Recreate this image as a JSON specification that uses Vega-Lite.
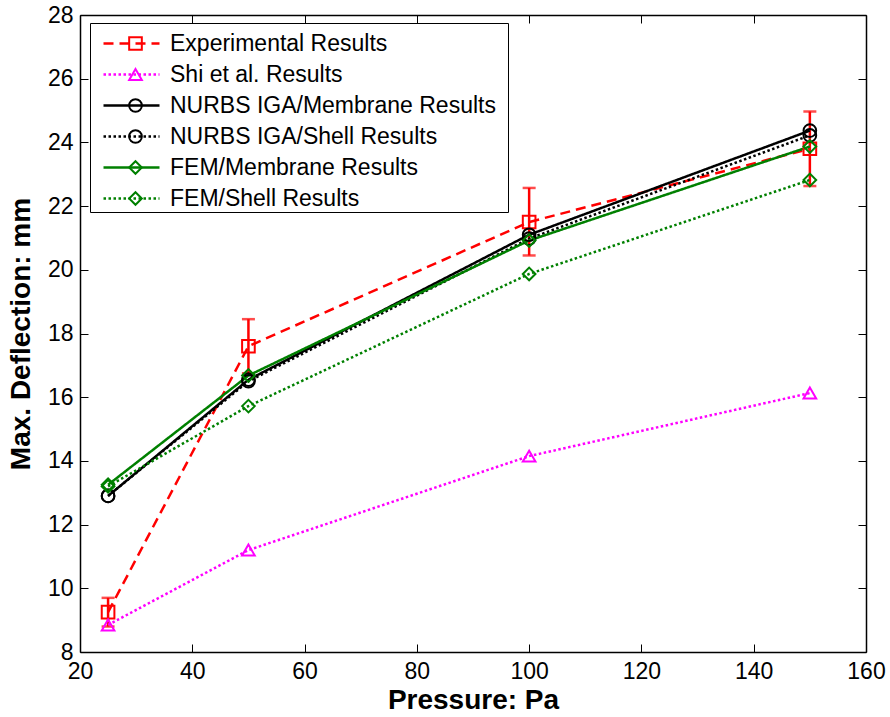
{
  "$schema": "https://vega.github.io/schema/vega-lite/v6.json",
  "width": 786,
  "height": 637,
  "autosize": "none",
  "padding": {"left": 80, "top": 15, "right": 24, "bottom": 65},
  "background": "white",
  "config": {
    "view": {"stroke": null},
    "font": "Liberation Sans",
    "axis": {
      "grid": false,
      "domainColor": "black",
      "domainWidth": 1.5,
      "tickColor": "black",
      "tickWidth": 1,
      "tickSize": -8,
      "labelFont": "Liberation Sans",
      "labelFontSize": 23,
      "labelColor": "black",
      "labelFlush": false,
      "labelOverlap": false,
      "titleFont": "Liberation Sans",
      "titleFontSize": 28,
      "titleFontWeight": "bold",
      "titleColor": "black"
    }
  },
  "datasets": {
    "series": [
      {"series": "Experimental Results", "p": 25, "d": 9.25},
      {"series": "Experimental Results", "p": 50, "d": 17.6},
      {"series": "Experimental Results", "p": 100, "d": 21.5},
      {"series": "Experimental Results", "p": 150, "d": 23.8},
      {"series": "Shi et al. Results", "p": 25, "d": 8.85},
      {"series": "Shi et al. Results", "p": 50, "d": 11.2},
      {"series": "Shi et al. Results", "p": 100, "d": 14.15},
      {"series": "Shi et al. Results", "p": 150, "d": 16.13},
      {"series": "NURBS IGA/Membrane Results", "p": 25, "d": 12.9},
      {"series": "NURBS IGA/Membrane Results", "p": 50, "d": 16.55},
      {"series": "NURBS IGA/Membrane Results", "p": 100, "d": 21.1},
      {"series": "NURBS IGA/Membrane Results", "p": 150, "d": 24.37},
      {"series": "NURBS IGA/Shell Results", "p": 25, "d": 12.9},
      {"series": "NURBS IGA/Shell Results", "p": 50, "d": 16.5},
      {"series": "NURBS IGA/Shell Results", "p": 100, "d": 20.98},
      {"series": "NURBS IGA/Shell Results", "p": 150, "d": 24.22},
      {"series": "FEM/Membrane Results", "p": 25, "d": 13.25},
      {"series": "FEM/Membrane Results", "p": 50, "d": 16.68},
      {"series": "FEM/Membrane Results", "p": 100, "d": 20.92},
      {"series": "FEM/Membrane Results", "p": 150, "d": 23.87},
      {"series": "FEM/Shell Results", "p": 25, "d": 13.2},
      {"series": "FEM/Shell Results", "p": 50, "d": 15.72},
      {"series": "FEM/Shell Results", "p": 100, "d": 19.87},
      {"series": "FEM/Shell Results", "p": 150, "d": 22.82}
    ],
    "err": [
      {"p": 25, "lo": 8.8, "hi": 9.7},
      {"p": 50, "lo": 16.75, "hi": 18.45},
      {"p": 100, "lo": 20.45, "hi": 22.57},
      {"p": 150, "lo": 22.63, "hi": 24.97}
    ]
  },
  "layer": [
    {
      "data": {"name": "err"},
      "mark": {"type": "errorbar", "color": "#FF0000", "rule": {"strokeWidth": 2.5, "color": "#FF0000"}, "ticks": {"size": 13, "thickness": 2.5, "color": "#FF0000"}},
      "encoding": {
        "x": {"field": "p", "type": "quantitative", "scale": {"domain": [20, 160]}, "axis": null},
        "y": {"field": "lo", "type": "quantitative", "scale": {"domain": [8, 28]}, "axis": null},
        "y2": {"field": "hi"}
      }
    },
    {
      "data": {"name": "series"},
      "mark": {"type": "line", "strokeWidth": 2.5},
      "encoding": {
        "x": {"field": "p", "type": "quantitative", "scale": {"domain": [20, 160]}, "axis": null},
        "y": {"field": "d", "type": "quantitative", "scale": {"domain": [8, 28]}, "axis": null},
        "color": {
          "field": "series", "type": "nominal",
          "scale": {
            "domain": ["Experimental Results", "Shi et al. Results", "NURBS IGA/Membrane Results", "NURBS IGA/Shell Results", "FEM/Membrane Results", "FEM/Shell Results"],
            "range": ["#FF0000", "#FF00FF", "#000000", "#000000", "#008000", "#008000"]
          },
          "legend": {
            "title": "\u200b\u2003\u2003\u2003\u2003\u2003\u2003\u2003\u2003\u2003\u2003\u2003\u2003\u2003\u2003\u2003\u2003\u2003\u2003\u2003\u2003\u2003\u2003\u2003\u2003\u2003\u2003\u2003\u2003\u2003\u2003\u2003\u2003\u2003\u2003\u2003\u2003\u2003\u2003\u2003\u2003\u2003\u2003\u2003\u2003\u2003\u2003\u2003\u2003\u2003\u2003\u2003\u2003\u200b",
            "titleFontSize": 8, "titlePadding": 0, "titleLimit": 2000,
            "orient": "none", "legendX": 10, "legendY": 8, "direction": "vertical",
            "symbolType": "stroke", "symbolSize": 3136, "symbolStrokeWidth": 2.5, "symbolOffset": 11, "labelOffset": 9,
            "labelFontSize": 23, "labelFont": "Liberation Sans", "labelColor": "black", "labelLimit": 0,
            "padding": 1, "rowPadding": 7, "clipHeight": 23,
            "strokeColor": "black", "cornerRadius": 0
          }
        },
        "strokeDash": {
          "field": "series", "type": "nominal",
          "scale": {
            "domain": ["Experimental Results", "Shi et al. Results", "NURBS IGA/Membrane Results", "NURBS IGA/Shell Results", "FEM/Membrane Results", "FEM/Shell Results"],
            "range": [[10, 6], [2.5, 2.5], [1, 0], [2.5, 2.5], [1, 0], [2.5, 2.5]]
          },
          "legend": {
            "title": "\u200b\u2003\u2003\u2003\u2003\u2003\u2003\u2003\u2003\u2003\u2003\u2003\u2003\u2003\u2003\u2003\u2003\u2003\u2003\u2003\u2003\u2003\u2003\u2003\u2003\u2003\u2003\u2003\u2003\u2003\u2003\u2003\u2003\u2003\u2003\u2003\u2003\u2003\u2003\u2003\u2003\u2003\u2003\u2003\u2003\u2003\u2003\u2003\u2003\u2003\u2003\u2003\u2003\u200b",
            "titleFontSize": 8, "titlePadding": 0, "titleLimit": 2000,
            "orient": "none", "legendX": 10, "legendY": 8, "direction": "vertical",
            "symbolType": "stroke", "symbolSize": 3136, "symbolStrokeWidth": 2.5, "symbolOffset": 11, "labelOffset": 9,
            "labelFontSize": 23, "labelFont": "Liberation Sans", "labelColor": "black", "labelLimit": 0,
            "padding": 1, "rowPadding": 7, "clipHeight": 23,
            "strokeColor": "black", "cornerRadius": 0
          }
        }
      }
    },
    {
      "data": {"name": "series"},
      "mark": {"type": "point", "filled": false, "strokeWidth": 2, "size": 160, "opacity": 1},
      "encoding": {
        "x": {"field": "p", "type": "quantitative", "scale": {"domain": [20, 160]}, "axis": null},
        "y": {"field": "d", "type": "quantitative", "scale": {"domain": [8, 28]}, "axis": null},
        "stroke": {
          "field": "series", "type": "nominal",
          "scale": {
            "domain": ["Experimental Results", "Shi et al. Results", "NURBS IGA/Membrane Results", "NURBS IGA/Shell Results", "FEM/Membrane Results", "FEM/Shell Results"],
            "range": ["#FF0000", "#FF00FF", "#000000", "#000000", "#008000", "#008000"]
          },
          "legend": null
        },
        "shape": {
          "field": "series", "type": "nominal",
          "scale": {
            "domain": ["Experimental Results", "Shi et al. Results", "NURBS IGA/Membrane Results", "NURBS IGA/Shell Results", "FEM/Membrane Results", "FEM/Shell Results"],
            "range": ["square", "triangle-up", "circle", "circle", "diamond", "diamond"]
          },
          "legend": {
            "title": null,
            "orient": "top-left", "offset": 16, "direction": "vertical",
            "symbolSize": 160, "symbolStrokeWidth": 2, "symbolOffset": 27, "labelOffset": 9,
            "labelFontSize": 23, "labelFont": "Liberation Sans", "labelExpr": "''", "labelLimit": 0,
            "padding": 1, "rowPadding": 7, "clipHeight": 23
          }
        }
      }
    },
    {
      "data": {"name": "series"},
      "mark": {"type": "point", "opacity": 0},
      "encoding": {
        "x": {"field": "p", "type": "quantitative", "scale": {"domain": [20, 160]},
          "axis": {"orient": "bottom", "values": [20, 40, 60, 80, 100, 120, 140, 160], "title": "Pressure: Pa", "labelPadding": 16, "titlePadding": 3}},
        "y": {"field": "d", "type": "quantitative", "scale": {"domain": [8, 28]},
          "axis": {"orient": "left", "values": [8, 10, 12, 14, 16, 18, 20, 22, 24, 26, 28], "title": "Max. Deflection: mm", "labelPadding": 15, "titlePadding": 12}}
      }
    },
    {
      "data": {"name": "series"},
      "mark": {"type": "point", "opacity": 0},
      "encoding": {
        "x": {"field": "p", "type": "quantitative", "scale": {"domain": [20, 160]},
          "axis": {"orient": "top", "values": [20, 40, 60, 80, 100, 120, 140, 160], "title": null, "labels": false}},
        "y": {"field": "d", "type": "quantitative", "scale": {"domain": [8, 28]},
          "axis": {"orient": "right", "values": [8, 10, 12, 14, 16, 18, 20, 22, 24, 26, 28], "title": null, "labels": false}}
      }
    }
  ],
  "resolve": {"axis": {"x": "independent", "y": "independent"}}
}
